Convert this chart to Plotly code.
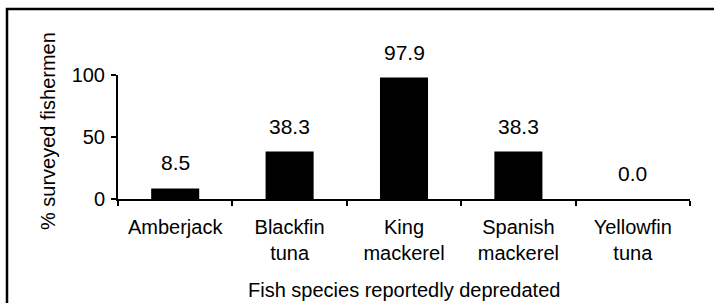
import plotly.graph_objects as go

categories = ["Amberjack", "Blackfin<br>tuna", "King<br>mackerel", "Spanish<br>mackerel", "Yellowfin<br>tuna"]
values = [8.5, 38.3, 97.9, 38.3, 0.0]
y_ticks = [0, 50, 100]
x_title = "Fish species reportedly depredated"
y_title = "% surveyed fishermen"

FONT = "Liberation Sans, Arial, Helvetica, sans-serif"

fig = go.Figure()
fig.add_trace(go.Bar(x=categories, y=values, marker=dict(color="black", line=dict(width=0)),
                     hoverinfo="skip"))

for c, v in zip(categories, values):
    fig.add_annotation(x=c, y=v, text=f"{v:.1f}", showarrow=False, yanchor="bottom",
                       yshift=12, font=dict(size=21, color="black", family=FONT))

W, H = 714, 303
L, R, T, B = 118, 24, 75, 104
pw, ph = W - L - R, H - T - B

def px_to_paper_x(px):
    return (px - L) / pw

def px_to_paper_y(py):
    return (T + ph - py) / ph

fig.add_shape(type="rect", xref="paper", yref="paper",
              x0=px_to_paper_x(7), x1=px_to_paper_x(W + 10),
              y0=px_to_paper_y(H + 10), y1=px_to_paper_y(9),
              line=dict(color="black", width=2.5), fillcolor="rgba(0,0,0,0)", layer="below")

fig.add_annotation(xref="paper", yref="paper", x=px_to_paper_x(48), y=px_to_paper_y(131),
                   text=y_title, textangle=-90, showarrow=False, xanchor="center", yanchor="middle",
                   font=dict(size=20, color="black", family=FONT))
fig.add_annotation(xref="paper", yref="paper", x=0.5, y=px_to_paper_y(290),
                   text=x_title, showarrow=False, xanchor="center", yanchor="middle",
                   font=dict(size=20, color="black", family=FONT))

fig.update_layout(
    width=W, height=H,
    margin=dict(l=L, r=R, t=T, b=B, pad=0, autoexpand=False),
    paper_bgcolor="white", plot_bgcolor="white",
    font=dict(family=FONT, size=20, color="black"),
    bargap=0.58,
    showlegend=False,
    xaxis=dict(
        type="category", tickson="boundaries", ticks="outside", ticklen=5, tickwidth=2,
        tickcolor="black", showline=True, linecolor="black", linewidth=2,
        showgrid=False, zeroline=False, ticklabelstandoff=9, automargin=False,
        tickfont=dict(size=20),
    ),
    yaxis=dict(
        range=[0, 100], tickvals=y_ticks, ticks="outside", ticklen=5, tickwidth=2,
        tickcolor="black", showline=True, linecolor="black", linewidth=2,
        showgrid=False, zeroline=False, ticklabelstandoff=2, automargin=False,
        tickfont=dict(size=20),
    ),
)

fig.write_html("out.html", config={"displayModeBar": False},
               post_script="document.body.style.margin='0';document.body.style.overflow='hidden';")
